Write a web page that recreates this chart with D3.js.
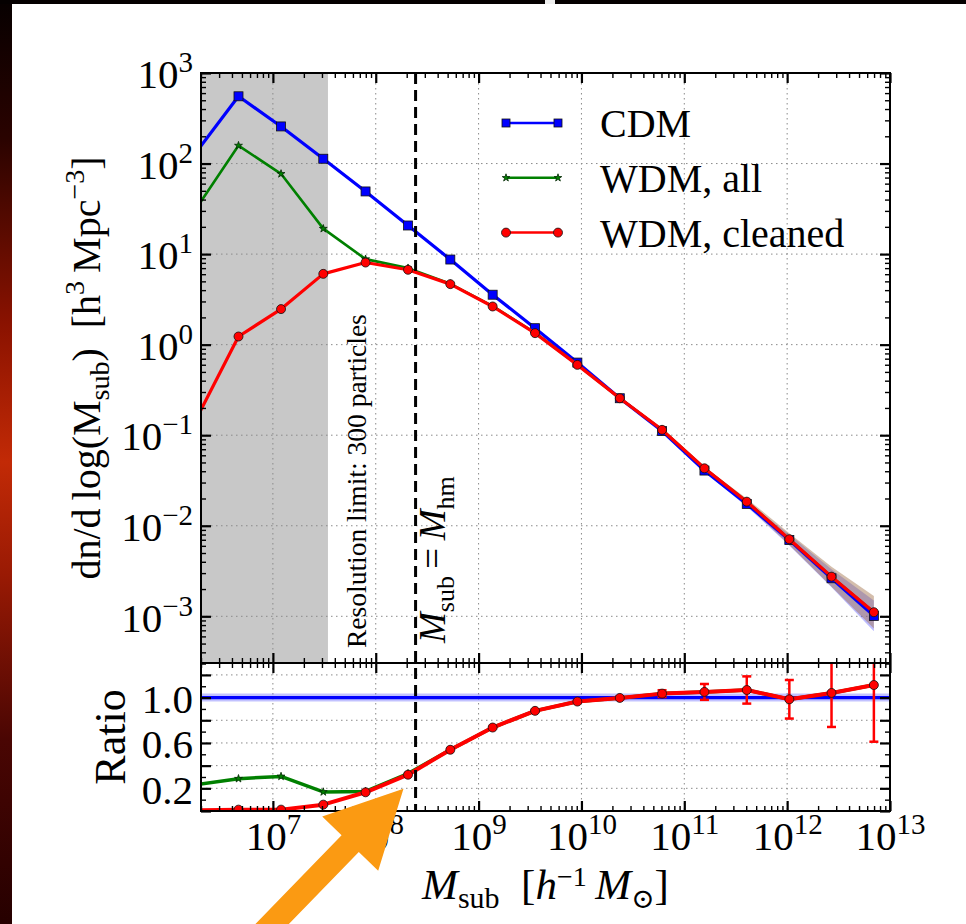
<!DOCTYPE html>
<html>
<head>
<meta charset="utf-8">
<script src="https://cdn.jsdelivr.net/npm/d3@7"></script>
<style>
  body { margin: 0; background: #fff; }
  svg { display: block; }
  text { font-family: "Liberation Serif", "DejaVu Serif", serif; fill: #000; }
</style>
</head>
<body>
<svg id="chart" width="966" height="924"></svg>
<script>
/* global d3 */
// subhalo mass bins [h^-1 Msun]; the first bin lies just left of the plotted range
var massBins = [1.8e6, 4.63e6, 1.20e7, 3.09e7, 7.96e7, 2.06e8, 5.31e8, 1.37e9, 3.54e9,
                9.13e9, 2.36e10, 6.08e10, 1.57e11, 4.05e11, 1.05e12, 2.70e12, 6.97e12];

// dn/dlog(Msub) [h^3 Mpc^-3]
var cdm      = [134, 553, 257, 113, 49.2, 20.7, 8.71, 3.56, 1.52, 0.634, 0.256,
                0.111, 0.0407, 0.0174, 0.00697, 0.00263, 0.00101];
var wdmAll   = [32, 158, 77, 19.1, 8.8, 7.0, 4.7, 2.66, 1.35, 0.600, 0.256,
                0.115, 0.0432, 0.0185, 0.0071, 0.00274, 0.00111];
var wdmClean = [0.151, 1.23, 2.47, 6.05, 8.07, 6.71, 4.66, 2.64, 1.34, 0.598, 0.256,
                0.1146, 0.0431, 0.01845, 0.0071, 0.00274, 0.00111];

// poisson scatter of the two mass functions, in dex
var cdmErrDex = [0, 0, 0, 0, 0, 0, 0, 0, 0, 0.004, 0.006, 0.01, 0.015, 0.03, 0.06, 0.10, 0.17];
var wdmErrDex = [0, 0, 0, 0, 0, 0, 0, 0, 0, 0.004, 0.006, 0.01, 0.015, 0.035, 0.065, 0.11, 0.18];

// WDM / CDM
var ratioAll   = [0.232, 0.285, 0.305, 0.168, 0.173, 0.33, 0.54, 0.736, 0.883, 0.965,
                  0.997, 1.035, 1.05, 1.067, 0.985, 1.041, 1.111];
var ratioClean = [0.005, 0.012, 0.012, 0.056, 0.165, 0.32, 0.54, 0.736, 0.883, 0.965,
                  0.997, 1.035, 1.05, 1.067, 0.985, 1.041, 1.111];
var ratioErr   = [0, 0, 0, 0, 0, 0, 0, 0.005, 0.008, 0.01, 0.012, 0.03, 0.07, 0.12,
                  0.17, 0.30, 0.50];

var resolutionMass = 3.43e7;   // 300 particles
var halfModeMass = 2.44e8;     // M_hm

var xMajor = [1e7, 1e8, 1e9, 1e10, 1e11, 1e12, 1e13];
var yMajor = [1e-3, 1e-2, 1e-1, 1e0, 1e1, 1e2, 1e3];
var ratioMajor = [0, 0.2, 0.4, 0.6, 0.8, 1.0, 1.2];
var ratioMinor = [0.1, 0.3, 0.5, 0.7, 0.9, 1.1, 1.3];
var ratioLabels = [0.2, 0.6, 1.0];

var series = [
    {name: "CDM", color: "#0000ff", marker: "square"},
    {name: "WDM, all", color: "#008000", marker: "star"},
    {name: "WDM, cleaned", color: "#ff0000", marker: "circle"}
];

// panel edges (main panel on top, ratio panel below)
var pLeft = 201, pRight = 890, pTop = 73, pMid = 663, pBottom = 811;
var svg = d3.select("#chart");

var x = d3.scaleLog().domain([2e6, 1e13]).range([pLeft, pRight]);
var y = d3.scaleLog().domain([3.05e-4, 1e3]).range([pMid, pTop]);
var yr = d3.scaleLinear().domain([0, 1.305]).range([pBottom, pMid]);

function logMinor(lo, hi) {
    var out = [];
    for (var e = Math.floor(Math.log10(lo)); e <= Math.ceil(Math.log10(hi)); e++) {
        for (var k = 2; k <= 9; k++) {
            var v = k * Math.pow(10, e);
            if (v >= lo && v <= hi) out.push(v);
        }
    }
    return out;
}
var xMinor = logMinor(2e6, 1e13);
var yMinor = logMinor(3.05e-4, 1e3);

// ---- slide background ----
var defs = svg.append("defs");
var grad = defs.append("linearGradient").attr("id", "edge")
    .attr("x1", 0).attr("y1", 0).attr("x2", 0).attr("y2", 1);
[[0, "#070000"], [0.15, "#2a0300"], [0.35, "#8a1200"], [0.5, "#c22a06"],
 [0.62, "#9a1a04"], [0.8, "#4a0603"], [1, "#260000"]].forEach(function (s) {
    grad.append("stop").attr("offset", s[0]).attr("stop-color", s[1]);
});
svg.append("rect").attr("width", 966).attr("height", 924).attr("fill", "#fff");
svg.append("rect").attr("width", 12).attr("height", 924).attr("fill", "url(#edge)");
svg.append("rect").attr("width", 966).attr("height", 4).attr("fill", "#050000");
svg.append("rect").attr("x", 545).attr("width", 10).attr("height", 4).attr("fill", "#eee");

defs.append("clipPath").attr("id", "clipMain").append("rect")
    .attr("x", pLeft).attr("y", pTop).attr("width", pRight - pLeft).attr("height", pMid - pTop);
defs.append("clipPath").attr("id", "clipRatio").append("rect")
    .attr("x", pLeft).attr("y", pMid).attr("width", pRight - pLeft).attr("height", pBottom - pMid);

// resolution limit shading
svg.append("rect")
    .attr("x", pLeft).attr("y", pTop)
    .attr("width", x(resolutionMass) - pLeft).attr("height", pMid - pTop)
    .attr("fill", "#c8c8c8");

// ---- grid ----
var grid = svg.append("g").attr("stroke", "#8a8a8a").attr("stroke-width", 1)
    .attr("stroke-dasharray", "1.5,3.5").attr("fill", "none");
xMajor.slice(0, -1).forEach(function (v) {
    grid.append("line").attr("x1", x(v)).attr("x2", x(v)).attr("y1", pTop).attr("y2", pBottom);
});
yMajor.slice(0, -1).forEach(function (v) {
    grid.append("line").attr("x1", pLeft).attr("x2", pRight).attr("y1", y(v)).attr("y2", y(v));
});
ratioMajor.slice(1).forEach(function (v) {
    grid.append("line").attr("x1", pLeft).attr("x2", pRight).attr("y1", yr(v)).attr("y2", yr(v));
});

// ---- main panel ----
var main = svg.append("g").attr("clip-path", "url(#clipMain)");

function band(values, errs, fill) {
    var area = d3.area()
        .x(function (d, i) { return x(massBins[i]); })
        .y0(function (d, i) { return y(d / Math.pow(10, errs[i])); })
        .y1(function (d, i) { return y(d * Math.pow(10, errs[i])); });
    main.append("path").datum(values).attr("d", area).attr("fill", fill).attr("stroke", "none");
}
band(cdm, cdmErrDex, "rgba(60,60,255,0.35)");
band(wdmClean, wdmErrDex, "rgba(160,110,70,0.45)");

function drawMarkers(g, vals, yScale, marker, color, size) {
    var pts = vals.map(function (v, i) { return [x(massBins[i]), yScale(v)]; });
    if (marker === "square") {
        g.selectAll(null).data(pts).enter().append("rect")
            .attr("x", function (p) { return p[0] - size / 2; })
            .attr("y", function (p) { return p[1] - size / 2; })
            .attr("width", size).attr("height", size)
            .attr("fill", color).attr("stroke", "#111").attr("stroke-width", 0.8);
    } else if (marker === "circle") {
        g.selectAll(null).data(pts).enter().append("circle")
            .attr("cx", function (p) { return p[0]; })
            .attr("cy", function (p) { return p[1]; })
            .attr("r", size / 2)
            .attr("fill", color).attr("stroke", "#111").attr("stroke-width", 0.8);
    } else {
        var star = d3.symbol().type(d3.symbolStar).size(size * size * 0.24);
        g.selectAll(null).data(pts).enter().append("path")
            .attr("d", star)
            .attr("transform", function (p) { return "translate(" + p[0] + "," + p[1] + ")"; })
            .attr("fill", color).attr("stroke", "#062a06").attr("stroke-width", 0.8);
    }
}

function drawSeries(g, vals, yScale, s, lw, msize) {
    var line = d3.line()
        .x(function (d, i) { return x(massBins[i]); })
        .y(function (d) { return yScale(d); });
    g.append("path").datum(vals).attr("d", line)
        .attr("fill", "none").attr("stroke", s.color).attr("stroke-width", lw)
        .attr("stroke-linejoin", "round");
    drawMarkers(g, vals, yScale, s.marker, s.color, msize);
}

drawSeries(main, cdm, y, series[0], 3.2, 9);
drawSeries(main, wdmAll, y, series[1], 2.6, 9);
drawSeries(main, wdmClean, y, series[2], 3.2, 9);

// ---- ratio panel ----
var ratio = svg.append("g").attr("clip-path", "url(#clipRatio)");
ratio.append("line")
    .attr("x1", pLeft).attr("x2", pRight).attr("y1", yr(1)).attr("y2", yr(1))
    .attr("stroke", "rgba(80,80,255,0.35)").attr("stroke-width", 8);
ratio.append("line")
    .attr("x1", pLeft).attr("x2", pRight).attr("y1", yr(1)).attr("y2", yr(1))
    .attr("stroke", "#0000ff").attr("stroke-width", 3.2);
drawSeries(ratio, ratioAll, yr, series[1], 3.5, 9);

// error bars on the cleaned ratio
var bars = ratio.append("g").attr("stroke", "#ff0000").attr("stroke-width", 2.5);
ratioClean.forEach(function (v, i) {
    if (!ratioErr[i]) return;
    var cx = x(massBins[i]);
    bars.append("line").attr("x1", cx).attr("x2", cx)
        .attr("y1", yr(v - ratioErr[i])).attr("y2", yr(v + ratioErr[i]));
    [v - ratioErr[i], v + ratioErr[i]].forEach(function (e) {
        bars.append("line").attr("x1", cx - 4.5).attr("x2", cx + 4.5)
            .attr("y1", yr(e)).attr("y2", yr(e));
    });
});
drawSeries(ratio, ratioClean, yr, series[2], 4, 9);

// half-mode mass
svg.append("line")
    .attr("x1", x(halfModeMass)).attr("x2", x(halfModeMass))
    .attr("y1", pTop).attr("y2", pBottom)
    .attr("stroke", "#000").attr("stroke-width", 3).attr("stroke-dasharray", "11,6");

// vertical annotations
svg.append("text")
    .attr("transform", "translate(366,648) rotate(-90)")
    .attr("font-size", 27.5)
    .text("Resolution limit: 300 particles");

var hm = svg.append("text")
    .attr("transform", "translate(445,643) rotate(-90)")
    .attr("font-size", 37);
hm.append("tspan").attr("font-style", "italic").text("M");
hm.append("tspan").attr("font-size", 26).attr("dy", 9).text("sub");
hm.append("tspan").attr("dy", -9).text("\u2009=\u2009");
hm.append("tspan").attr("font-style", "italic").text("M");
hm.append("tspan").attr("font-size", 26).attr("dy", 9).text("hm");

// ---- frames and ticks ----
function tickGroup(axisFn, scale, values, size, tx, ty, sw) {
    var g = svg.append("g").attr("transform", "translate(" + tx + "," + ty + ")")
        .call(axisFn(scale).tickValues(values).tickSize(size).tickFormat(""));
    g.select(".domain").remove();
    g.selectAll("line").attr("stroke", "#000").attr("stroke-width", sw);
    return g;
}

[[pTop, d3.axisTop], [pMid, d3.axisBottom], [pMid, d3.axisTop], [pBottom, d3.axisBottom]].forEach(function (a) {
    tickGroup(a[1], x, xMajor, -10, 0, a[0], 2.2);
    tickGroup(a[1], x, xMinor, -5, 0, a[0], 1.4);
});
[[pLeft, d3.axisLeft], [pRight, d3.axisRight]].forEach(function (a) {
    tickGroup(a[1], y, yMajor, -10, a[0], 0, 2.2);
    tickGroup(a[1], y, yMinor, -5, a[0], 0, 1.4);
    tickGroup(a[1], yr, ratioMajor, -10, a[0], 0, 2.2);
    tickGroup(a[1], yr, ratioMinor, -5, a[0], 0, 1.4);
});

svg.append("rect").attr("x", pLeft).attr("y", pTop)
    .attr("width", pRight - pLeft).attr("height", pBottom - pTop)
    .attr("fill", "none").attr("stroke", "#000").attr("stroke-width", 2);
svg.append("line").attr("x1", pLeft).attr("x2", pRight).attr("y1", pMid).attr("y2", pMid)
    .attr("stroke", "#000").attr("stroke-width", 2);

// ---- tick labels ----
function powerLabel(t, exp) {
    t.text(null);
    t.append("tspan").text("10");
    t.append("tspan").attr("font-size", 29).attr("dy", -16)
        .text(String(exp).replace("-", "\u2212"));
}

var xLab = svg.append("g").attr("transform", "translate(0," + pBottom + ")")
    .call(d3.axisBottom(x).tickValues(xMajor).tickSize(0).tickPadding(10));
xLab.select(".domain").remove();
xLab.attr("font-size", 41).attr("font-family", null);
xLab.selectAll(".tick text").each(function (d) {
    powerLabel(d3.select(this), Math.round(Math.log10(d)));
});

var yLab = svg.append("g").attr("transform", "translate(" + pLeft + ",0)")
    .call(d3.axisLeft(y).tickValues(yMajor).tickSize(0).tickPadding(8));
yLab.select(".domain").remove();
yLab.attr("font-size", 41).attr("font-family", null);
yLab.selectAll(".tick text").attr("dy", "0.36em").each(function (d) {
    powerLabel(d3.select(this), Math.round(Math.log10(d)));
});

var rLab = svg.append("g").attr("transform", "translate(" + pLeft + ",0)")
    .call(d3.axisLeft(yr).tickValues(ratioLabels).tickSize(0).tickPadding(8)
        .tickFormat(d3.format(".1f")));
rLab.select(".domain").remove();
rLab.attr("font-size", 41).attr("font-family", null);
rLab.selectAll(".tick text").attr("dy", "0.36em");

// ---- axis titles ----
var yt = svg.append("text")
    .attr("transform", "translate(100," + (pTop + pMid) / 2 + ") rotate(-90)")
    .attr("text-anchor", "middle").attr("font-size", 40);
yt.append("tspan").text("dn/d\u2009log(M");
yt.append("tspan").attr("font-size", 28).attr("dy", 9).text("sub");
yt.append("tspan").attr("dy", -9).text(")\u2002[h");
yt.append("tspan").attr("font-size", 28).attr("dy", -16).text("3");
yt.append("tspan").attr("dy", 16).text("\u2009Mpc");
yt.append("tspan").attr("font-size", 28).attr("dy", -16).text("\u22123");
yt.append("tspan").attr("dy", 16).text("]");

svg.append("text")
    .attr("transform", "translate(125," + (pMid + pBottom) / 2 + ") rotate(-90)")
    .attr("text-anchor", "middle").attr("font-size", 44)
    .text("Ratio");

var xt = svg.append("text")
    .attr("x", (pLeft + pRight) / 2).attr("y", 899)
    .attr("text-anchor", "middle").attr("font-size", 43);
xt.append("tspan").attr("font-style", "italic").text("M");
xt.append("tspan").attr("font-size", 30).attr("dy", 9).text("sub");
xt.append("tspan").attr("dy", -9).text("\u2002[");
xt.append("tspan").attr("font-style", "italic").text("h");
xt.append("tspan").attr("font-size", 28).attr("dy", -13).text("\u22121");
xt.append("tspan").attr("dy", 13).text("\u2009");
xt.append("tspan").attr("font-style", "italic").text("M");
xt.append("tspan").attr("font-size", 28).attr("dy", 9).text("\u2299");
xt.append("tspan").attr("dy", -9).text("]");

// ---- legend ----
var legend = svg.append("g");
series.forEach(function (s, i) {
    var ly = 123 + i * 54.8;
    var lg = legend.append("g");
    lg.append("line").attr("x1", 506).attr("x2", 558).attr("y1", ly).attr("y2", ly)
        .attr("stroke", s.color).attr("stroke-width", 2.5);
    [506, 558].forEach(function (lx) {
        if (s.marker === "square") {
            lg.append("rect").attr("x", lx - 4).attr("y", ly - 4).attr("width", 8).attr("height", 8)
                .attr("fill", s.color).attr("stroke", "#111").attr("stroke-width", 0.8);
        } else if (s.marker === "circle") {
            lg.append("circle").attr("cx", lx).attr("cy", ly).attr("r", 4.5)
                .attr("fill", s.color).attr("stroke", "#111").attr("stroke-width", 0.8);
        } else {
            lg.append("path").attr("d", d3.symbol().type(d3.symbolStar).size(18))
                .attr("transform", "translate(" + lx + "," + ly + ")")
                .attr("fill", s.color).attr("stroke", "#062a06").attr("stroke-width", 0.8);
        }
    });
    lg.append("text").attr("x", 600).attr("y", ly + 14).attr("font-size", 40).text(s.name);
});

// ---- pointer arrow ----
var tip = [x(1.86e8), yr(0.197)];
var u = [0.6963, -0.7177], n = [0.7177, 0.6963];
var headLen = 76.5, headHalf = 39, shaftHalf = 12, tailLen = 270;
var base = [tip[0] - headLen * u[0], tip[1] - headLen * u[1]];
var tail = [tip[0] - tailLen * u[0], tip[1] - tailLen * u[1]];
function off(p, k) { return [p[0] + k * n[0], p[1] + k * n[1]]; }
var arrowPts = [tip, off(base, headHalf), off(base, shaftHalf), off(tail, shaftHalf),
                off(tail, -shaftHalf), off(base, -shaftHalf), off(base, -headHalf)];
svg.append("path")
    .attr("d", "M" + arrowPts.map(function (p) { return p.join(","); }).join("L") + "Z")
    .attr("fill", "#fb9a12");
</script>
</body>
</html>
